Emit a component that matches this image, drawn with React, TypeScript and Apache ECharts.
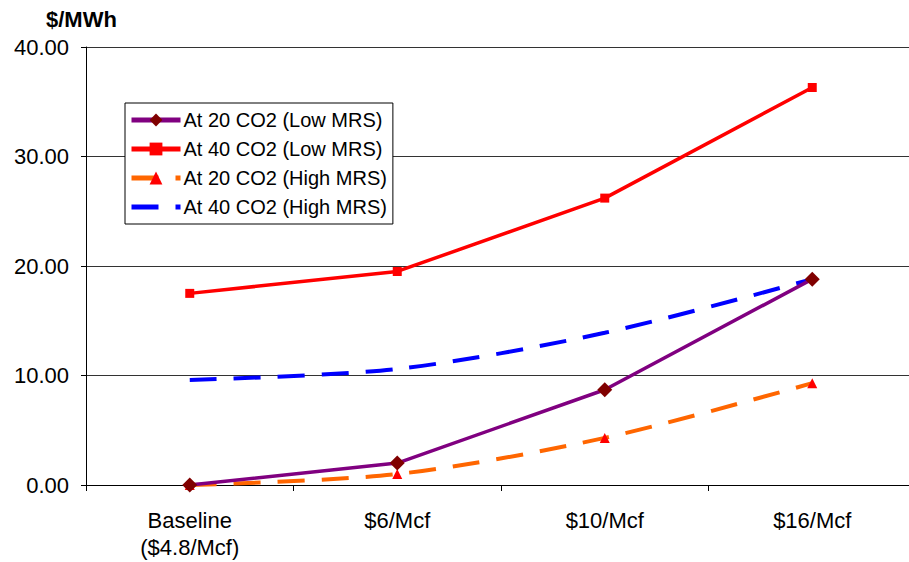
import React, { useEffect, useRef } from "react";
import * as echarts from "echarts";

const categories = ["Baseline\n($4.8/Mcf)", "$6/Mcf", "$10/Mcf", "$16/Mcf"];
const low20 = [0.0, 2.0, 8.7, 18.8];
const low40 = [17.5, 19.5, 26.2, 36.3];
const high20 = [0.0, 1.0, 4.3, 9.3];
const high40 = [9.6, 10.6, 13.9, 18.8];
const seriesNames = [
  "At 20 CO2 (Low MRS)",
  "At 40 CO2 (Low MRS)",
  "At 20 CO2 (High MRS)",
  "At 40 CO2 (High MRS)",
];

const FONT = "'Liberation Sans', Arial, sans-serif";

export default function App() {
  const ref = useRef<HTMLDivElement>(null);
  useEffect(() => {
    if (!ref.current) return;
    const chart = echarts.init(ref.current, null, { renderer: "svg" });
    chart.setOption({
      animation: false,
      backgroundColor: "#fff",
      textStyle: { fontFamily: FONT },
      grid: {
        left: 86,
        width: 830,
        top: 47,
        height: 438,
        containLabel: false,
        outerBoundsMode: "none",
      },
      title: {
        text: "$/MWh",
        left: 41,
        top: 3,
        textStyle: { fontFamily: FONT, fontSize: 22, fontWeight: "bold", color: "#000" },
      },
      legend: {
        orient: "vertical",
        left: 125,
        top: 103,
        padding: [7, 6, 7, 4],
        itemGap: 9,
        itemWidth: 49,
        itemHeight: 16,
        backgroundColor: "#fff",
        borderColor: "#000",
        borderWidth: 1,
        borderRadius: 0,
        lineStyle: { width: 5 },
        textStyle: { fontFamily: FONT, fontSize: 20, color: "#000", padding: [0, 0, 0, -2] },
        data: seriesNames,
      },
      xAxis: {
        type: "category",
        data: categories,
        boundaryGap: true,
        axisLine: { lineStyle: { color: "#000", width: 1 } },
        axisTick: { show: true, length: 6, lineStyle: { color: "#000" } },
        axisLabel: {
          fontFamily: FONT,
          fontSize: 22,
          color: "#000",
          margin: 22,
          lineHeight: 27,
        },
      },
      yAxis: {
        type: "value",
        min: 0,
        max: 40,
        interval: 10,
        axisLine: { show: true, lineStyle: { color: "#000", width: 1 } },
        axisTick: { show: true, inside: false, length: 5, lineStyle: { color: "#000" } },
        splitLine: { show: true, lineStyle: { color: "#333", width: 1 } },
        axisLabel: {
          fontFamily: FONT,
          fontSize: 22,
          color: "#000",
          margin: 17,
          formatter: (v: number) => v.toFixed(2),
        },
      },
      series: [
        {
          name: seriesNames[0],
          type: "line",
          data: low20,
          symbol: "diamond",
          symbolSize: 15,
          lineStyle: { color: "#800080", width: 3.5 },
          itemStyle: { color: "#800000" },
          z: 4,
        },
        {
          name: seriesNames[1],
          type: "line",
          data: low40,
          symbol: "rect",
          symbolSize: 9,
          lineStyle: { color: "#FF0000", width: 3.5 },
          itemStyle: { color: "#FF0000" },
          z: 4,
        },
        {
          name: seriesNames[2],
          type: "line",
          data: high20,
          smooth: 0.3,
          symbol: "triangle",
          symbolSize: 10,
          lineStyle: { color: "#FF6600", width: 4, type: [27, 17] },
          itemStyle: { color: "#FF0000" },
          z: 3,
        },
        {
          name: seriesNames[3],
          type: "line",
          data: high40,
          smooth: 0.3,
          symbol: "circle",
          showSymbol: false,
          lineStyle: { color: "#0000FF", width: 4, type: [27, 17] },
          itemStyle: { color: "rgba(0,0,0,0)", borderWidth: 0 },
          z: 3,
        },
      ],
    });
    return () => chart.dispose();
  }, []);
  return <div ref={ref} style={{ width: 909, height: 562, position: "absolute", left: 0, top: 0 }} />;
}
